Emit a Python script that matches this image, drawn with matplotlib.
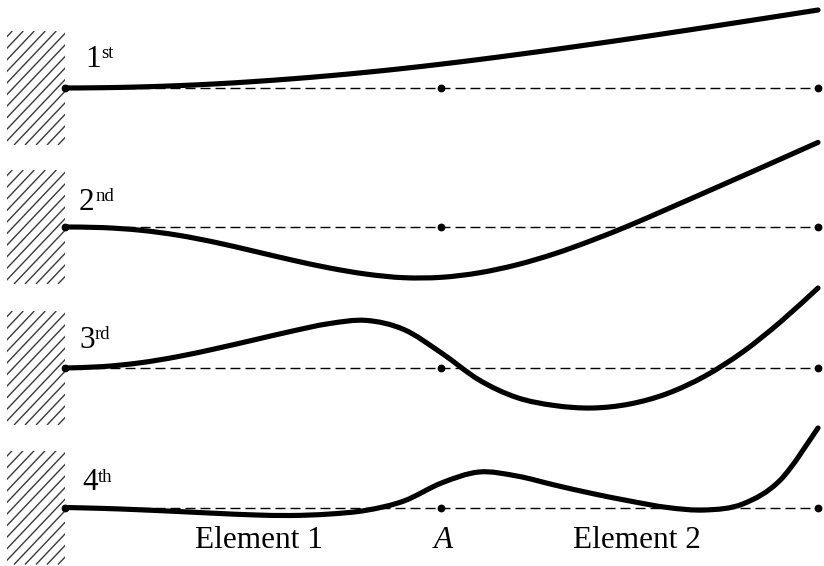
import numpy as np
import matplotlib
matplotlib.use("Agg")
import matplotlib.pyplot as plt
from matplotlib.path import Path
from matplotlib.patches import PathPatch, Rectangle

# ---------------- data ----------------
# normalised position along the beam (0 = clamped end, 0.5 = node A, 1 = tip)
s = [0.00, 0.05, 0.10, 0.15, 0.20, 0.25, 0.30, 0.35, 0.40, 0.45, 0.50,
     0.55, 0.60, 0.65, 0.70, 0.75, 0.80, 0.85, 0.90, 0.95, 1.00]
# deflections (upward positive, drawing units)
mode1 = [0, 0.29, 1.08, 2.35, 4.1, 6.4, 9.1, 12.2, 15.7, 19.6, 23.9,
         28.5, 33.4, 38.5, 43.8, 49.2, 54.8, 60.5, 66.3, 72.1, 78.0]
mode2 = [0, -0.6, -3.2, -8.2, -15.4, -24.0, -32.8, -40.8, -47.1, -50.7, -50.3,
         -45.8, -37.8, -26.8, -13.3, 1.7, 18.0, 34.5, 51.1, 67.8, 84.6]
mode3 = [0, 1.4, 5.2, 11.4, 19.3, 27.9, 36.6, 44.3, 47.6, 38.5, 15.0,
         -12.0, -29.5, -37.5, -40.0, -36.0, -25.5, -8.0, 16.0, 46.0, 80.0]
mode4 = [0, -0.9, -2.3, -4.0, -5.8, -7.4, -8.0, -6.6, -2.8, 6.5, 24.5,
         35.5, 31.5, 22.5, 14.0, 6.5, 0.0, -2.5, 3.5, 27.5, 79.5]
modes = [mode1, mode2, mode3, mode4]
mode_numbers = ["1", "2", "3", "4"]
mode_suffixes = ["st", "nd", "rd", "th"]
node_positions = [0.0, 0.5, 1.0]
bottom_labels = ["Element 1", "A", "Element 2"]
bottom_label_pos = [0.258, 0.503, 0.76]

# ---------------- layout ----------------
W, H = 824, 566
x0, L = 65.0, 753.0
baselines = [88, 227, 368, 507.5]
label_x = [85, 79, 79, 82]
label_up = [21, 17, 20, 17]
FONT = "Liberation Serif"

fig = plt.figure(figsize=(W / 100, H / 100), dpi=100)
ax = fig.add_axes([0, 0, 1, 1])
ax.set_xlim(0, W)
ax.set_ylim(H, 0)
ax.axis("off")


def smooth_path(xs, ys):
    pts = np.column_stack([xs, ys])
    n = len(pts)
    verts = [pts[0]]
    codes = [Path.MOVETO]
    for i in range(n - 1):
        p0 = pts[i - 1] if i > 0 else pts[i]
        p1 = pts[i]
        p2 = pts[i + 1]
        p3 = pts[i + 2] if i + 2 < n else pts[i + 1]
        c1 = p1 + (p2 - p0) / 6.0
        c2 = p2 - (p3 - p1) / 6.0
        verts += [c1, c2, p2]
        codes += [Path.CURVE4] * 3
    return Path(verts, codes)


sx = x0 + L * np.asarray(s)
for k, (defl, base) in enumerate(zip(modes, baselines)):
    # clamped wall with hatching
    wall_top, wall_bot = base - 57, base + 57
    wall_l, wall_r = 7, x0
    rect = Rectangle((wall_l, wall_top), wall_r - wall_l, wall_bot - wall_top,
                     facecolor="none", edgecolor="none")
    ax.add_patch(rect)
    spacing = 11.0
    hgt = wall_bot - wall_top
    for c in np.arange(wall_l - hgt - spacing, wall_r + spacing, spacing):
        ln, = ax.plot([c, c + hgt * 0.95], [wall_bot, wall_top],
                      color="#3a3a3a", lw=1.0, solid_capstyle="butt")
        ln.set_clip_path(rect)

    # dashed reference line
    ax.plot([x0, x0 + L], [base, base], color="black", lw=1.0,
            linestyle=(0, (7.2, 3.6)))
    # nodes
    ax.plot(x0 + L * np.asarray(node_positions), [base] * len(node_positions),
            "o", color="black", markersize=4.6, zorder=4)
    # mode shape
    ys = base - np.asarray(defl)
    patch = PathPatch(smooth_path(sx, ys), facecolor="none", edgecolor="black",
                      lw=3.7, capstyle="round", joinstyle="round", zorder=5)
    ax.add_patch(patch)

    # label
    t = ax.text(label_x[k], base - label_up[k], mode_numbers[k], fontsize=22.5,
                family=FONT, ha="left", va="baseline")
    ax.annotate(mode_suffixes[k], xy=(1.0, 0.0), xycoords=t,
                xytext=(0.3, 11.5), textcoords="offset points",
                fontsize=13.5, family=FONT, ha="left", va="baseline")

# bottom labels
for lab, pos in zip(bottom_labels, bottom_label_pos):
    style = "italic" if lab == "A" else "normal"
    ax.text(x0 + L * pos, 548, lab, fontsize=22.5, family=FONT, style=style,
            ha="center", va="baseline")

fig.savefig("out.png", dpi=100)
